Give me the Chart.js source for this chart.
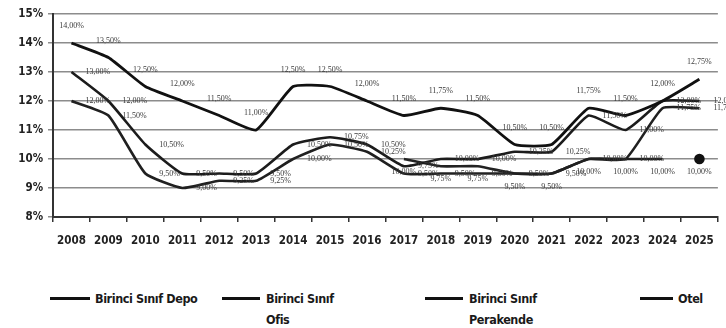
<!DOCTYPE html>
<html>
<head>
<meta charset="utf-8">
<script src="https://cdn.jsdelivr.net/npm/chart.js@4"></script>
<style>
  body { margin: 0; background: #fff; }
  #wrap { position: relative; width: 726px; height: 255px; }
  #legend { position: relative; width: 726px; height: 73px; font-family: "DejaVu Sans Condensed", "Liberation Sans", Arial, sans-serif; font-weight: bold; font-size: 12.5px; color: #1a1a1a; }
  .swatch { position: absolute; top: 42px; height: 3px; background: #111; }
  .txt { position: absolute; top: 33px; line-height: 21px; white-space: nowrap; letter-spacing: -0.4px; }
</style>
</head>
<body>
<div id="wrap"><canvas id="chart"></canvas></div>
<div id="legend">
  <div class="swatch" style="left:50px;width:40px"></div>
  <div class="txt" style="left:95px">Birinci Sınıf Depo</div>
  <div class="swatch" style="left:222px;width:38px"></div>
  <div class="txt" style="left:266px">Birinci Sınıf<br>Ofis</div>
  <div class="swatch" style="left:425px;width:38px"></div>
  <div class="txt" style="left:469px">Birinci Sınıf<br>Perakende</div>
  <div class="swatch" style="left:640px;width:33px"></div>
  <div class="txt" style="left:678px">Otel</div>
</div>
<script>
'use strict';

const years = ['2008', '2009', '2010', '2011', '2012', '2013', '2014', '2015', '2016',
  '2017', '2018', '2019', '2020', '2021', '2022', '2023', '2024', '2025'];

const depo = [14, 13.5, 12.5, 12, 11.5, 11, 12.5, 12.5, 12, 11.5, 11.75, 11.5, 10.5, 10.5, 11.75, 11.5, 12, 12.75];
const ofis = [13, 12, 10.5, 9.5, 9.5, 9.5, 10.5, 10.75, 10.5, 9.75, 10, 10, 10.25, 10.25, 11.5, 11, 12, 12];
const perakende = [12, 11.5, 9.5, 9, 9.25, 9.25, 10, 10.5, 10.25, 9.5, 9.5, 9.5, 9.5, 9.5, 10, 10, 11.75, 11.75];
const otel = [null, null, null, null, null, null, null, null, null, 10, 9.75, 9.75, 9.5, 9.5, 10, 10, 10, 10];

const yTicks = [8, 9, 10, 11, 12, 13, 14, 15];

const tickFont = { family: '"DejaVu Sans Condensed", "Liberation Sans", Arial', weight: 'bold', size: 11.5 };

// little value labels next to every point, like the excel original
const pointLabels = {
  id: 'pointLabels',
  afterDatasetsDraw(chart) {
    const ctx = chart.ctx;
    ctx.save();
    ctx.font = '8px "Liberation Serif", serif';
    ctx.fillStyle = '#3a3a3a';
    chart.data.datasets.forEach((ds, i) => {
      const meta = chart.getDatasetMeta(i);
      meta.data.forEach((pt, j) => {
        const v = ds.data[j];
        if (v == null) return;
        const txt = v.toFixed(2).replace('.', ',') + '%';
        if (ds.labelPos === 'top') {
          ctx.textAlign = 'center';
          ctx.textBaseline = 'bottom';
          ctx.fillText(txt, pt.x, pt.y - 13);
        } else if (ds.labelPos === 'below') {
          ctx.textAlign = 'center';
          ctx.textBaseline = 'top';
          ctx.fillText(txt, pt.x, pt.y + 9);
        } else {
          ctx.textAlign = 'left';
          ctx.textBaseline = 'middle';
          ctx.fillText(txt, pt.x + 14, pt.y);
        }
      });
    });
    ctx.restore();
  }
};

const lastIdx = years.length - 1;

new Chart(document.getElementById('chart'), {
  type: 'line',
  data: {
    labels: years,
    datasets: [
      { label: 'Birinci Sınıf Depo', data: depo, borderColor: '#111', borderWidth: 2.8, pointRadius: 0, tension: 0.15, labelPos: 'top' },
      { label: 'Birinci Sınıf Ofis', data: ofis, borderColor: '#1c1c1c', borderWidth: 2.6, pointRadius: 0, tension: 0.15, labelPos: 'right' },
      { label: 'Birinci Sınıf Perakende', data: perakende, borderColor: '#202020', borderWidth: 2.6, pointRadius: 0, tension: 0.15, labelPos: 'right' },
      {
        label: 'Otel', data: otel, borderColor: '#222', borderWidth: 2.6, tension: 0.15, labelPos: 'below',
        pointRadius: otel.map((v, i) => i === lastIdx ? 4 : 0),
        pointBackgroundColor: '#111', pointBorderColor: '#111',
        segment: { borderColor: c => c.p1DataIndex === lastIdx ? 'rgba(0,0,0,0)' : '#222' }
      }
    ]
  },
  options: {
    responsive: true,
    maintainAspectRatio: false,
    animation: false,
    layout: { padding: { top: 14, right: 4, left: 0, bottom: 0 } },
    plugins: { legend: { display: false }, tooltip: { enabled: false } },
    scales: {
      y: {
        min: 8,
        max: 15,
        afterBuildTicks: s => { s.ticks = yTicks.map(v => ({ value: v })); },
        afterFit: s => { s.width = 53; },
        ticks: { callback: v => v + '%', color: '#222', padding: 5, font: tickFont },
        grid: { color: '#8c8c8c', lineWidth: 1.5, tickLength: 5 },
        border: { color: '#333', width: 2 }
      },
      x: {
        offset: true,
        afterFit: s => { s.height = 38; },
        ticks: { color: '#222', padding: 12, maxRotation: 0, autoSkip: false, font: tickFont },
        grid: { offset: true, drawOnChartArea: false, tickLength: 5, color: '#333', lineWidth: 1.5 },
        border: { color: '#333', width: 2 }
      }
    }
  },
  plugins: [pointLabels]
});
</script>
</body>
</html>
